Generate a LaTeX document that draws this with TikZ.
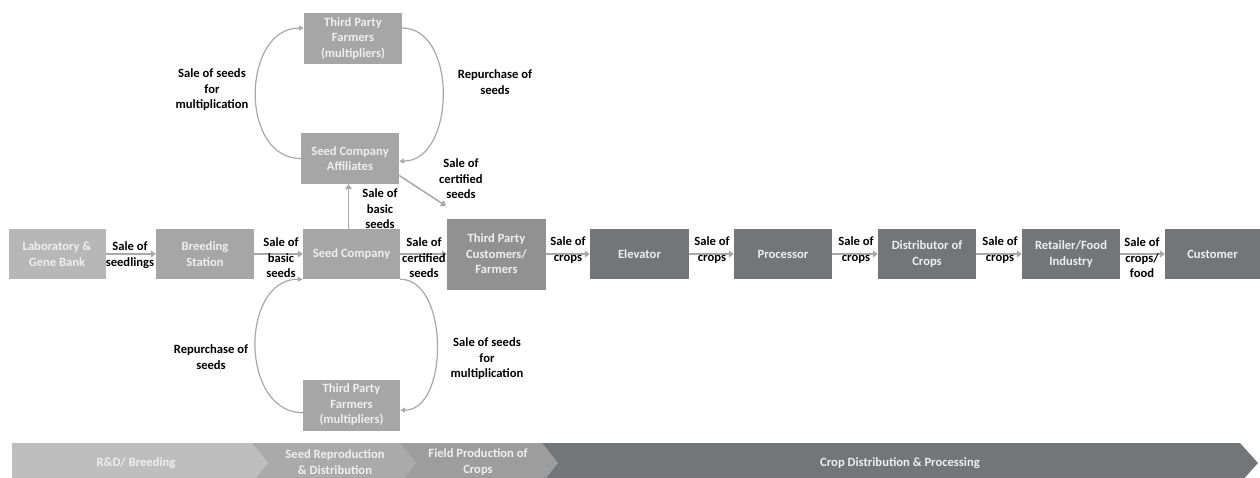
\documentclass[tikz,border=0pt]{standalone}
\usepackage{fontspec}
\setmainfont{Carlito}
\usetikzlibrary{arrows.meta}

\definecolor{boxlight}{HTML}{B7B7B7}
\definecolor{boxmid}{HTML}{A6A6A6}
\definecolor{boxcust}{HTML}{919191}
\definecolor{boxdark}{HTML}{737578}
\definecolor{arrowgray}{HTML}{A8A8A8}
\definecolor{boxtext}{HTML}{EFEFEF}
\definecolor{chevA}{HTML}{BEBEBE}
\definecolor{chevB}{HTML}{AAAAAA}
\definecolor{chevC}{HTML}{9D9D9D}
\definecolor{chevD}{HTML}{737578}

\tikzset{
	box/.style={fill=boxmid, text=boxtext, minimum width=97pt, minimum height=50pt, align=center, inner sep=1pt},
	lbl/.style={align=center, text=black, inner sep=0pt},
	flow/.style={draw=arrowgray, line width=2pt, -{Triangle[length=5pt,width=7pt]}},
	backflow/.style={draw=arrowgray, line width=1.2pt, -{Triangle[length=5pt,width=5pt]}},
}

\begin{document}
\begin{tikzpicture}[x=1pt, y=-1pt, font=\bfseries\fontsize{12.6}{15.5}\selectfont]
	\useasboundingbox (0,0) rectangle (1260,477);
	
	% main chain
	\node[box, fill=boxlight] (lab) at (57,254) {Laboratory \&\\Gene Bank};
	\node[box, minimum width=98pt] (breed) at (205,254) {Breeding\\Station};
	\node[box] (seedco) at (351.5,254) {Seed Company};
	\node[box, fill=boxcust, minimum width=99pt, minimum height=71pt] (cust3) at (496.5,254) {Third Party\\Customers/\\Farmers};
	\node[box, fill=boxdark, minimum width=99pt] (elev) at (639.5,254) {Elevator};
	\node[box, fill=boxdark, minimum width=98pt] (proc) at (783,254) {Processor};
	\node[box, fill=boxdark, minimum width=98pt] (distr) at (927,254) {Distributor of\\Crops};
	\node[box, fill=boxdark, minimum width=98pt] (retail) at (1071,254) {Retailer/Food\\Industry};
	\node[box, fill=boxdark, minimum width=95pt] (customer) at (1212.5,254) {Customer};
	
	% multiplier loops
	\node[box, minimum width=98pt, minimum height=51pt] (aff) at (350,158.5) {Seed Company\\Affiliates};
	\node[box, minimum width=98pt, minimum height=51pt] (topfarm) at (353,38.5) {Third Party\\Farmers\\(multipliers)};
	\node[box, minimum height=51pt] (botfarm) at (351.5,405) {Third Party\\Farmers\\(multipliers)};
	
	% arrows
	\draw[flow] (lab) -- (breed);
	\draw[flow] (breed) -- (seedco);
	\draw[flow] (seedco) -- (cust3);
	\foreach \a/\b in {cust3/elev, elev/proc, proc/distr, distr/retail, retail/customer}
	\draw[flow] (\a) -- (\b);
	\draw[flow, line width=1.5pt] ([xshift=-3pt]seedco.north) -- ([xshift=-3pt]seedco.north |- aff.south);
	\coordinate (certtip) at (446,206);
	\draw[flow, line width=1.5pt] (aff.-19) -- (certtip);
	
	\draw[backflow] (aff.west) .. controls +(-62,0) and +(-62,0) .. (topfarm.168);
	\draw[backflow] (topfarm.12) .. controls +(56,0) and +(56,0) .. (aff.-3);
	\draw[backflow] (seedco.south east) .. controls +(49,0) and +(49,0) .. (botfarm.-6);
	\draw[backflow] (botfarm.189) .. controls +(-63,0) and +(-63,0) .. (seedco.south west);
	
	% labels
	\node[lbl] (lseedl) at (130,255) {Sale of\\seedlings};
	\node[lbl] (lbasic) at (281,258) {Sale of\\basic\\seeds};
	\node[lbl] (lcert) at (424,258) {Sale of\\certified\\seeds};
	\foreach \x/\n in {568/a, 712/b, 856/c, 1000/d}
	\node[lbl] (lcrop\n) at (\x,250) {Sale of\\crops};
	\node[lbl] (lfood) at (1142,258) {Sale of\\crops/\\food};
	\node[lbl] (lbasicup) at (380,209) {Sale of\\basic\\seeds};
	\node[lbl] (lcertup) at (461,179) {Sale of\\certified\\seeds};
	\node[lbl] (lmulttop) at (212,90) {Sale of seeds\\for\\multiplication};
	\node[lbl] (lreptop) at (495,82) {Repurchase of\\seeds};
	\node[lbl] (lrepbot) at (211,357) {Repurchase of\\seeds};
	\node[lbl] (lmultbot) at (487,359) {Sale of seeds\\for\\multiplication};
	
	% stages
	\begin{scope}
		\clip (0,0) rectangle (1260,477);
		\fill[chevA] (12,443) -- (252,443) -- (268,463) -- (252,483) -- (12,483) -- cycle;
		\fill[chevB] (252,443) -- (400,443) -- (416,463) -- (400,483) -- (252,483) -- (268,463) -- cycle;
		\fill[chevC] (400,443) -- (542,443) -- (558,463) -- (542,483) -- (400,483) -- (416,463) -- cycle;
		\fill[chevD] (542,443) -- (1240,443) -- (1258,463) -- (1240,483) -- (542,483) -- (558,463) -- cycle;
		\node[text=boxtext] (srd) at (136,463) {R\&D/ Breeding};
		\node[text=boxtext, align=center] (sseed) at (335,462) {Seed Reproduction\\\& Distribution};
		\node[text=boxtext, align=center] (sfield) at (478,462) {Field Production of\\Crops};
		\node[text=boxtext] (scrop) at (900,463) {Crop Distribution \& Processing};
	\end{scope}
\end{tikzpicture}
\end{document}
